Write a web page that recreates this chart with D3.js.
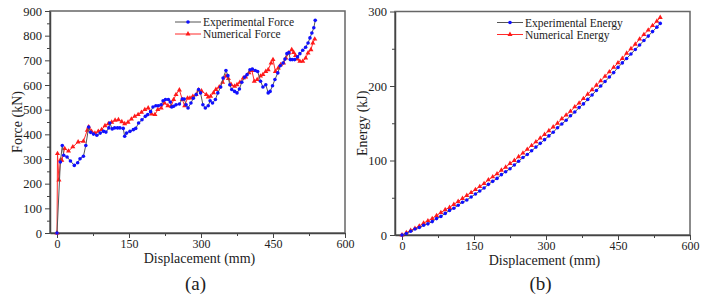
<!DOCTYPE html>
<html>
<head>
<meta charset="utf-8">
<script src="https://cdn.jsdelivr.net/npm/d3@7"></script>
<style>
  body { margin: 0; background: #fff; }
  svg text { font-family: "Liberation Serif", "Times New Roman", "DejaVu Serif", serif !important; fill: #222; }
</style>
</head>
<body>
<script>
// ---- data ----
// (a) force vs displacement
var expForceX = [0, 7, 11, 14, 21, 28, 36, 43, 48, 55, 60, 66, 70, 76, 83, 90, 97, 102, 108, 110, 115, 120, 126, 131, 138, 141, 145, 152, 159, 164, 170, 177, 184, 189, 195, 200, 206, 211, 217, 221, 226, 232, 236, 239, 243, 248, 255, 261, 265, 269, 273, 279, 284, 290, 295, 299, 304, 309, 315, 319, 324, 330, 335, 341, 346, 352, 356, 360, 364, 370, 375, 380, 385, 391, 396, 402, 407, 413, 418, 424, 429, 435, 440, 444, 449, 454, 460, 465, 471, 475, 479, 483, 486, 490, 495, 501, 506, 512, 518, 523, 527, 531, 535, 538];
var expForceY = [0, 288, 355, 315, 308, 292, 274, 285, 301, 311, 355, 430, 408, 401, 396, 405, 412, 409, 426, 446, 422, 426, 426, 426, 424, 392, 405, 412, 419, 424, 446, 459, 473, 480, 492, 511, 516, 516, 520, 536, 541, 541, 531, 511, 514, 520, 523, 543, 543, 520, 507, 527, 546, 561, 582, 568, 520, 507, 516, 536, 527, 541, 568, 592, 628, 659, 638, 601, 582, 574, 568, 584, 611, 632, 642, 662, 665, 659, 655, 615, 592, 601, 568, 574, 597, 622, 649, 678, 689, 705, 727, 732, 703, 703, 703, 714, 727, 741, 753, 770, 791, 811, 832, 862];
var numForceX = [0, 1, 4, 7, 10, 16, 24, 33, 44, 55, 63, 66, 72, 79, 86, 93, 100, 107, 114, 121, 128, 135, 141, 148, 155, 162, 169, 176, 183, 190, 197, 204, 210, 217, 224, 231, 238, 243, 248, 255, 261, 266, 272, 277, 283, 290, 295, 301, 311, 315, 320, 326, 331, 338, 345, 352, 357, 363, 370, 375, 381, 388, 393, 400, 406, 411, 417, 424, 429, 435, 440, 446, 450, 455, 461, 466, 472, 477, 483, 489, 493, 497, 501, 506, 512, 518, 523, 529, 533, 537];
var numForceY = [0, 322, 215, 296, 295, 342, 332, 349, 369, 372, 416, 430, 412, 405, 412, 419, 435, 443, 449, 457, 459, 451, 443, 449, 462, 473, 480, 489, 500, 507, 482, 480, 500, 507, 527, 516, 514, 541, 561, 580, 541, 516, 547, 547, 554, 561, 580, 576, 561, 551, 554, 568, 582, 592, 611, 636, 626, 601, 595, 601, 611, 628, 632, 649, 659, 615, 622, 636, 642, 655, 662, 689, 703, 655, 669, 682, 689, 709, 730, 743, 732, 719, 705, 696, 696, 709, 730, 743, 770, 786];

// (b) energy vs displacement
var energyX = [0, 9, 18, 27, 36, 45, 54, 63, 72, 81, 90, 99, 108, 117, 126, 135, 144, 153, 162, 171, 180, 189, 198, 207, 216, 225, 234, 243, 252, 261, 270, 279, 288, 297, 306, 315, 324, 333, 342, 351, 360, 369, 378, 387, 396, 405, 414, 423, 432, 441, 450, 459, 468, 477, 486, 495, 504, 513, 522, 531, 538];
var expEnergy = [0, 2, 5, 8, 10, 13, 15, 18, 22, 25, 29, 33, 36, 40, 44, 47, 51, 55, 59, 63, 68, 72, 76, 81, 85, 89, 94, 99, 104, 108, 113, 118, 123, 128, 133, 138, 144, 149, 154, 160, 165, 171, 176, 182, 188, 194, 200, 206, 212, 218, 225, 231, 237, 243, 249, 255, 261, 267, 273, 279, 284];
var numEnergy = [0, 3, 6, 9, 12, 16, 19, 22, 26, 30, 34, 37, 41, 45, 49, 53, 57, 61, 65, 69, 74, 78, 82, 87, 91, 96, 100, 105, 110, 115, 120, 125, 130, 135, 140, 145, 150, 156, 161, 166, 172, 177, 183, 189, 195, 201, 207, 213, 219, 225, 231, 237, 244, 250, 256, 263, 269, 275, 281, 287, 292];

var xTicks = [0, 150, 300, 450, 600];
var serif = "'Liberation Serif', 'Times New Roman', 'DejaVu Serif', serif";

var svg = d3.select("body").append("svg")
    .attr("width", 705)
    .attr("height", 301)
    .attr("font-family", serif);

function zip(xs, ys) {
  return xs.map(function(d, i) { return {x: d, y: ys[i]}; });
}

function panel(opt) {
  var x = d3.scaleLinear().domain([-14.6, 600]).range([opt.left, opt.right]);
  var y = d3.scaleLinear().domain([0, opt.ymax]).range([opt.bottom, opt.top]);
  var g = svg.append("g");

  // frame
  g.append("rect")
    .attr("x", opt.left).attr("y", opt.top)
    .attr("width", opt.right - opt.left).attr("height", opt.bottom - opt.top)
    .style("fill", "none").style("stroke", "#666").style("stroke-width", 1.5);

  // minor ticks
  var xMinor = [75, 225, 375, 525];
  g.append("g")
    .attr("transform", "translate(0," + opt.bottom + ")")
    .call(d3.axisBottom(x).tickValues(xMinor).tickSize(3).tickFormat(""))
    .call(function(s) { s.select(".domain").remove(); });
  g.append("g")
    .attr("transform", "translate(" + opt.left + ",0)")
    .call(d3.axisLeft(y).tickValues(opt.yMinor).tickSize(3).tickFormat(""))
    .call(function(s) { s.select(".domain").remove(); });

  // major axes
  var xa = g.append("g")
    .attr("transform", "translate(0," + opt.bottom + ")")
    .call(d3.axisBottom(x).tickValues(xTicks).tickSize(5).tickSizeOuter(0).tickPadding(1));
  var ya = g.append("g")
    .attr("transform", "translate(" + opt.left + ",0)")
    .call(d3.axisLeft(y).tickValues(opt.yTicks).tickSize(5).tickSizeOuter(0).tickPadding(3));
  [xa, ya].forEach(function(a) {
    a.attr("font-family", serif).attr("font-size", 12.5);
    a.selectAll("text").style("font-size", "12.5px").style("fill", "#222");
    a.select(".domain").style("stroke", "#444").style("stroke-width", 1.5);
  });
  xa.selectAll("text").style("font-size", "12px");
  g.selectAll(".tick line").style("stroke", "#444");

  // axis titles
  g.append("text")
    .attr("x", (opt.left + opt.right) / 2 + 2).attr("y", opt.bottom + 30)
    .attr("text-anchor", "middle").style("font-size", "14px")
    .text("Displacement (mm)");
  g.append("text")
    .attr("transform", "translate(" + (opt.left - 28) + "," + ((opt.top + opt.bottom) / 2) + ") rotate(-90)")
    .attr("text-anchor", "middle").style("font-size", "14px")
    .text(opt.ylabel);
  g.append("text")
    .attr("x", (opt.left + opt.right) / 2 - 2).attr("y", 290)
    .attr("text-anchor", "middle").style("font-size", "19px")
    .text(opt.tag);

  var line = d3.line().x(function(d) { return x(d.x); }).y(function(d) { return y(d.y); });

  // numerical (red)
  var num = zip(opt.numX, opt.numY);
  g.append("path").datum(num).attr("d", line)
    .style("fill", "none").style("stroke", "#ff2a2a").style("stroke-width", 1);
  g.selectAll(".tri").data(num).enter().append("path")
    .attr("class", "tri")
    .attr("transform", function(d) { return "translate(" + x(d.x) + "," + y(d.y) + ")"; })
    .attr("d", d3.symbol().type(d3.symbolTriangle).size(11))
    .style("fill", "#ff1a1a");

  // experimental (gray line, blue dots)
  var exp = zip(opt.expX, opt.expY);
  g.append("path").datum(exp).attr("d", line)
    .style("fill", "none").style("stroke", "#555").style("stroke-width", 1);
  g.selectAll(".dot").data(exp).enter().append("circle")
    .attr("class", "dot")
    .attr("cx", function(d) { return x(d.x); })
    .attr("cy", function(d) { return y(d.y); })
    .attr("r", 1.8)
    .style("fill", "#1010ff");

  // legend
  var lx = opt.legendX, ly = opt.top + 11;
  var items = [
    {name: opt.expName, stroke: "#555", fill: "#1010ff", tri: false},
    {name: opt.numName, stroke: "#ff2a2a", fill: "#ff1a1a", tri: true}
  ];
  items.forEach(function(it, i) {
    var yy = ly + i * 12;
    g.append("line").attr("x1", lx).attr("x2", lx + 26).attr("y1", yy).attr("y2", yy)
      .style("stroke", it.stroke).style("stroke-width", 1);
    if (it.tri) {
      g.append("path").attr("transform", "translate(" + (lx + 13) + "," + yy + ")")
        .attr("d", d3.symbol().type(d3.symbolTriangle).size(11)).style("fill", it.fill);
    } else {
      g.append("circle").attr("cx", lx + 13).attr("cy", yy).attr("r", 1.8).style("fill", it.fill);
    }
    g.append("text").attr("x", lx + 28).attr("y", yy + 4)
      .style("font-size", "11.5px").text(it.name);
  });
}

panel({
  left: 50, right: 345, top: 11, bottom: 233, ymax: 900,
  yTicks: [0, 100, 200, 300, 400, 500, 600, 700, 800, 900],
  yMinor: [50, 150, 250, 350, 450, 550, 650, 750, 850],
  ylabel: "Force (kN)", tag: "(a)", legendX: 175,
  expX: expForceX, expY: expForceY, numX: numForceX, numY: numForceY,
  expName: "Experimental Force", numName: "Numerical Force"
});

panel({
  left: 395, right: 690, top: 11.5, bottom: 235, ymax: 300,
  yTicks: [0, 100, 200, 300],
  yMinor: [50, 150, 250],
  ylabel: "Energy (kJ)", tag: "(b)", legendX: 497,
  expX: energyX, expY: expEnergy, numX: energyX, numY: numEnergy,
  expName: "Experimental Energy", numName: "Numerical Energy"
});
</script>
</body>
</html>
